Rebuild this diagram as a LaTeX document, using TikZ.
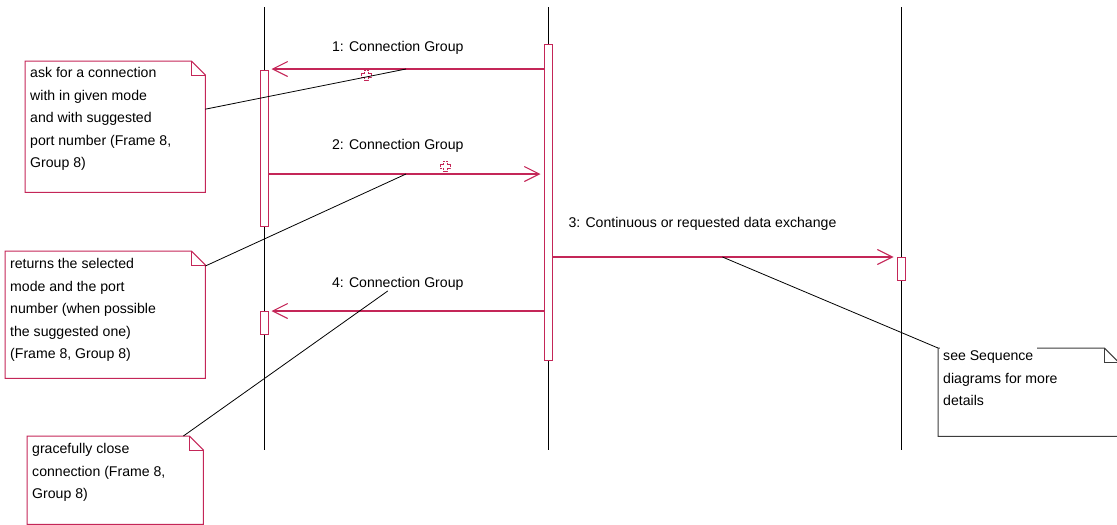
\documentclass[tikz,border=0pt]{standalone}
\usepackage{fontspec}
\setmainfont{Liberation Sans}
\usetikzlibrary{arrows.meta}

\definecolor{umlred}{RGB}{196,38,88}
\definecolor{notegrey}{RGB}{60,60,60}

\newcommand{\msgfont}{\fontsize{14.1}{22.6}\selectfont}
% first line of a note that sits over the frame
\newcommand{\overframe}[1]{{\setlength{\fboxsep}{3.5pt}\hspace*{-3.5pt}\colorbox{white}{#1}}}
% note with a folded corner, drawn round an empty node
\newcommand{\foldnote}[2][umlred]{%
  \draw[#1, line width=1pt] (#2.north west) -- ([xshift=-14pt]#2.north east)
    -- ([yshift=-14pt]#2.north east) -- (#2.south east) -- (#2.south west) -- cycle;
  \draw[#1, line width=1pt] ([xshift=-14pt]#2.north east) |- ([yshift=-14pt]#2.north east);}

\begin{document}
\begin{tikzpicture}[x=1pt, y=-1pt,
  lifeline/.style={line width=0.9pt},
  bar/.style={draw=umlred, fill=white, line width=1pt, minimum width=8pt, inner sep=0, anchor=north},
  msg/.style={umlred, line width=1.1pt, shorten >=3pt, -{Straight Barb[length=15pt, width=15pt]}},
  msglabel/.style={font=\msgfont, text=black, inner sep=0},
  note/.style 2 args={minimum width=#1, minimum height=#2, inner sep=0, anchor=north west},
  notetext/.style={font=\msgfont, align=left, inner sep=0, anchor=north west},
  link/.style={line width=0.8pt},
  crossmark/.pic={\draw[umlred, line width=0.9pt, dash pattern=on 2pt off 0.8pt]
    (-2,-5) -- (2,-5) -- (2,-2) -- (5,-2) -- (5,2) -- (2,2)
    -- (2,5) -- (-2,5) -- (-2,2) -- (-5,2) -- (-5,-2) -- (-2,-2) -- cycle;}]
\useasboundingbox (0,0) rectangle (1117,525);

% lifelines
\coordinate (lifeA) at (264,7);
\coordinate (lifeB) at (548,7);
\coordinate (lifeC) at (901,7);
\coordinate (bottom) at (0,450);
\foreach \l in {lifeA,lifeB,lifeC}
  \draw[lifeline] (\l) -- (\l |- bottom);

% activations
\node[bar, minimum height=156] (barA) at (264,70) {};
\node[bar, minimum height=23] (barA2) at (264,311) {};
\node[bar, minimum height=316] (barB) at (548,44) {};
\node[bar, minimum height=23] (barC) at (901,257) {};

% message rows
\coordinate (m1) at (0,69);
\coordinate (m2) at (0,174);
\coordinate (m3) at (0,257);
\coordinate (m4) at (0,311);

\draw[msg] (barB.west |- m1) -- (barA.east |- m1)
  node[msglabel, pos=0.53, above=14pt] (lbl1) {1: Connection Group}
  coordinate[pos=0.5] (on1);
\draw[msg] (barA.east |- m2) -- (barB.west |- m2)
  node[msglabel, pos=0.47, above=21pt] (lbl2) {2: Connection Group}
  coordinate[pos=0.5] (on2);
\draw[msg] (barB.east |- m3) -- (barC.west |- m3)
  node[msglabel, pos=0.436, above=26pt] (lbl3) {3: Continuous or requested data exchange}
  coordinate[pos=0.494] (on3);
\draw[msg] (barB.west |- m4) -- (barA2.east |- m4)
  node[msglabel, pos=0.53, above=20pt] (lbl4) {4: Connection Group};

\pic at (366,75) {crossmark};
\pic at (445,166) {crossmark};

% notes
\node[note={180}{131}] (askNote) at (25,61) {};
\foldnote{askNote}
\node[notetext] (askText) at ([shift={(5,6)}]askNote.north west)
  {ask for a connection\\with in given mode\\and with suggested\\port number (Frame 8,\\Group 8)};

\node[note={200}{127}] (retNote) at (5,251) {};
\foldnote{retNote}
\node[notetext] (retText) at ([shift={(5,7)}]retNote.north west)
  {returns the selected\\mode and the port\\number (when possible\\the suggested one)\\(Frame 8, Group 8)};

\node[note={176}{88}] (closeNote) at (27,436) {};
\foldnote{closeNote}
\node[notetext] (closeText) at ([shift={(5,7)}]closeNote.north west)
  {gracefully close\\connection (Frame 8,\\Group 8)};

\node[note={180}{88}] (seqNote) at (938,348) {};
\foldnote[notegrey]{seqNote}
\node[notetext] (seqText) at ([shift={(5,-1)}]seqNote.north west)
  {\overframe{see Sequence}\\diagrams for more\\details};

% note links
\draw[link] (askNote.11) -- (on1);
\draw[link] ([yshift=-15pt]retNote.north east) -- (on2);
\draw[link] ([xshift=-20pt]closeNote.north east) -- ([xshift=-10pt]lbl4.south);
\draw[link] (on3) -- (seqNote.north west);
\end{tikzpicture}
\end{document}
